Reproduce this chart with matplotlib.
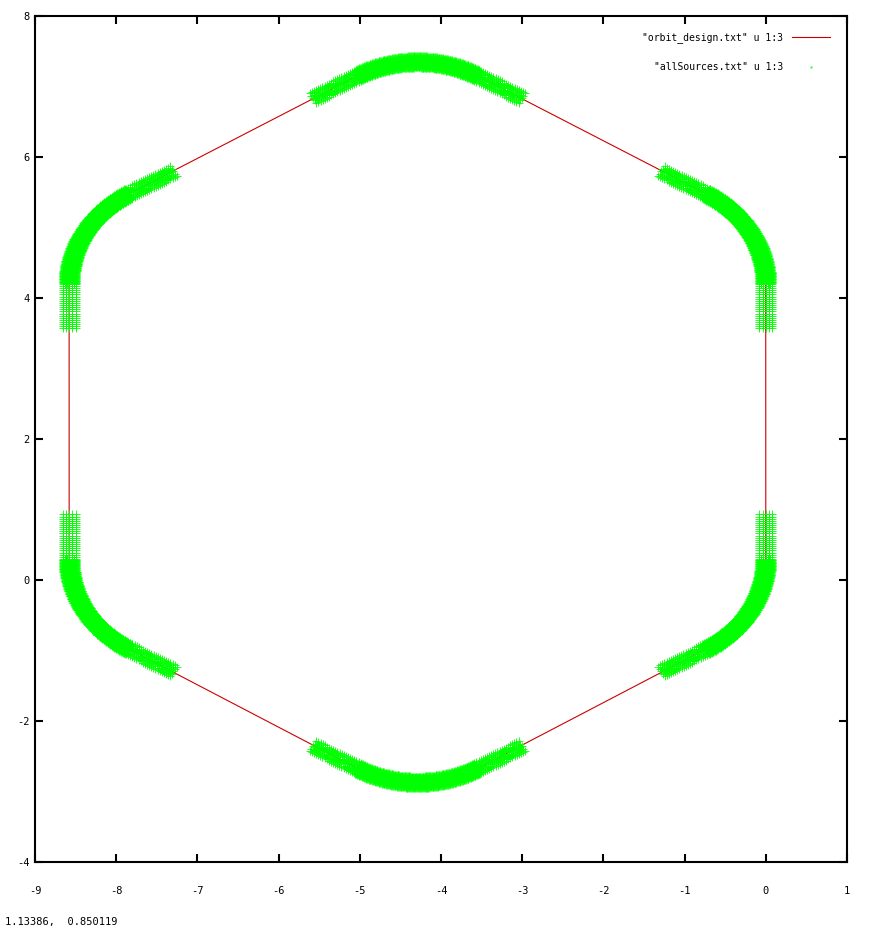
import numpy as np
import matplotlib.pyplot as plt

# bend centres of the ring, in orbit order
bend_x = [-1.48, -1.48, -4.29, -7.10, -7.10, -4.29]
bend_y = [0.30, 4.20, 5.87, 4.20, 0.30, -1.39]
bend_start = [-60, 0, 60, 120, 180, 240]
bend_angle = 60
bend_radius = 1.48

# sources: dense on the bends, sparse rows reaching into the straights
straight_reach = 0.65
row_step = 0.03
dense_step = 0.01
dense_offsets = [-0.08, -0.055, -0.03, 0.0, 0.03, 0.055, 0.08]
sparse_offsets = [-0.08, -0.04, 0.0, 0.04, 0.08]

x_ticks = [-9, -8, -7, -6, -5, -4, -3, -2, -1, 0, 1]
y_ticks = [-4, -2, 0, 2, 4, 6, 8]
legend_labels = ['"orbit_design.txt" u 1:3', '"allSources.txt" u 1:3']
mouse_text = '1.13386,  0.850119'

orbit_x, orbit_y = [], []
src_x, src_y = [], []
for cx, cy, a0 in zip(bend_x, bend_y, bend_start):
    th = np.radians(np.linspace(a0, a0 + bend_angle, 60))
    orbit_x += list(cx + bend_radius * np.cos(th))
    orbit_y += list(cy + bend_radius * np.sin(th))

    n = int(bend_radius * np.radians(bend_angle) / dense_step)
    th = np.radians(np.linspace(a0, a0 + bend_angle, n))
    for off in dense_offsets:
        src_x += list(cx + (bend_radius + off) * np.cos(th))
        src_y += list(cy + (bend_radius + off) * np.sin(th))

    s = np.arange(row_step, straight_reach, row_step)
    for ang, sign in [(a0, -1), (a0 + bend_angle, 1)]:
        t = np.radians(ang)
        px, py = cx + bend_radius * np.cos(t), cy + bend_radius * np.sin(t)
        tx, ty = -np.sin(t), np.cos(t)
        for off in sparse_offsets:
            src_x += list(px + sign * s * tx + off * np.cos(t))
            src_y += list(py + sign * s * ty + off * np.sin(t))

orbit_x.append(orbit_x[0])
orbit_y.append(orbit_y[0])

plt.rcParams['font.family'] = 'DejaVu Sans Mono'
plt.rcParams['axes.unicode_minus'] = False
fig = plt.figure(figsize=(8.7, 9.3), dpi=100)
ax = fig.add_axes([35 / 870, 1 - 862 / 930, 812 / 870, 846 / 930])

ax.plot(orbit_x, orbit_y, color='#cc0000', lw=0.8, zorder=2)
ax.plot(src_x, src_y, ls='none', marker='+', ms=5.5, mew=0.6,
        color='#00ff00', zorder=3)

ax.set_xlim(-9, 1)
ax.set_ylim(-4, 8)
ax.set_xticks(x_ticks)
ax.set_yticks(y_ticks)
ax.tick_params(direction='in', length=6, width=1.5, top=True, right=True,
               labelsize=7.5)
ax.tick_params(axis='x', pad=17)
ax.tick_params(axis='y', pad=4)
for sp in ax.spines.values():
    sp.set_linewidth(1.5)

ax.text(0.921, 0.975, legend_labels[0], transform=ax.transAxes,
        ha='right', va='center', fontsize=7)
ax.plot([0.932, 0.979], [0.975, 0.975], transform=ax.transAxes,
        color='#cc0000', lw=0.8, clip_on=False)
ax.text(0.921, 0.9397, legend_labels[1], transform=ax.transAxes,
        ha='right', va='center', fontsize=7)
ax.plot([0.9557], [0.9397], transform=ax.transAxes, ls='none',
        marker='.', ms=1, color='#00ff00', clip_on=False)

fig.text(5 / 870, 1 - 922 / 930, mouse_text, ha='left', va='center',
         fontsize=7.5)

fig.savefig('out.png', dpi=100)
